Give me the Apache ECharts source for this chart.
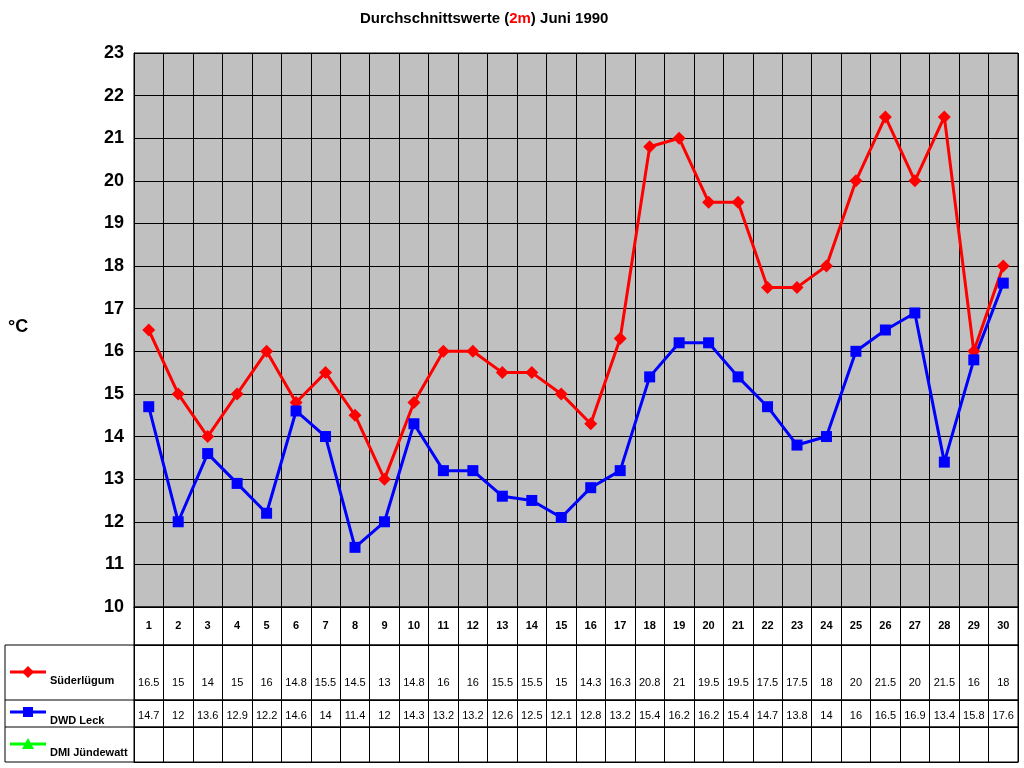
<!DOCTYPE html><html><head><meta charset="utf-8"><script src="https://cdn.jsdelivr.net/npm/echarts@6/dist/echarts.min.js"></script>
<style>body{margin:0;background:#fff}#c{width:1024px;height:768px}</style></head><body><div id="c"></div><script>
const days=['1','2','3','4','5','6','7','8','9','10','11','12','13','14','15','16','17','18','19','20','21','22','23','24','25','26','27','28','29','30'];
const sued=[16.5,15,14,15,16,14.8,15.5,14.5,13,14.8,16,16,15.5,15.5,15,14.3,16.3,20.8,21,19.5,19.5,17.5,17.5,18,20,21.5,20,21.5,16,18];
const dwd=[14.7,12,13.6,12.9,12.2,14.6,14,11.4,12,14.3,13.2,13.2,12.6,12.5,12.1,12.8,13.2,15.4,16.2,16.2,15.4,14.7,13.8,14,16,16.5,16.9,13.4,15.8,17.6];
const dmi=days.map(()=>'');
const L=134,R=6;
const rows=[{top:607,h:38,d:days},{top:645,h:55,d:sued.map(String)},{top:700,h:27,d:dwd.map(String)},{top:727,h:35,d:dmi}];
const grids=[{left:L,right:R,top:53,height:554,backgroundColor:'#c0c0c0',show:true,borderColor:'#000',borderWidth:1}];
const xAxes=[{gridIndex:0,type:'category',data:days,boundaryGap:true,axisLabel:{show:false},axisTick:{show:false},axisLine:{lineStyle:{color:'#000'}},splitLine:{show:true,interval:0,lineStyle:{color:'#000'}}}];
const yAxes=[{gridIndex:0,type:'value',min:10,max:23,interval:1,axisLabel:{color:'#000',fontWeight:'bold',fontSize:18,fontFamily:'Arial, Liberation Sans',margin:10},axisLine:{show:true,lineStyle:{color:'#000'}},axisTick:{show:false},splitLine:{lineStyle:{color:'#000'}}}];
rows.forEach((r,i)=>{
 grids.push({left:L,right:R,top:r.top,height:r.h,show:true,borderColor:'#000',borderWidth:1,backgroundColor:'#fff'});
 xAxes.push({gridIndex:i+1,type:'category',data:r.d,boundaryGap:true,axisTick:{show:false},axisLine:{lineStyle:{color:'#000'}},
  splitLine:{show:true,interval:0,lineStyle:{color:'#000'}},
  axisLabel:{inside:true,interval:0,margin:i==0?14:(i==1?12:6),color:'#000',fontSize:11,fontWeight:i==0?'bold':'normal',fontFamily:'Arial, Liberation Sans'}});
 yAxes.push({gridIndex:i+1,type:'value',show:false,splitLine:{show:false}});
});
const leg=[{y:672,name:'Süderlügum',c:'#ff0000',s:'diamond'},{y:712,name:'DWD Leck',c:'#0000ff',s:'rect'},{y:744,name:'DMI Jündewatt',c:'#00ff00',s:'triangle'}];
const graphic=[{type:'rect',shape:{x:5,y:645,width:129,height:117},style:{fill:'#fff',stroke:'#000',lineWidth:1}},
 {type:'line',shape:{x1:5,y1:700,x2:134,y2:700},style:{stroke:'#000'}},
 {type:'line',shape:{x1:5,y1:727,x2:134,y2:727},style:{stroke:'#000'}},
 {type:'text',left:8,top:318,style:{text:'°C',font:'bold 18px Arial, Liberation Sans',fill:'#000'}},
 {type:'text',left:360,top:11,style:{rich:{a:{font:'bold 15px Arial, Liberation Sans',fill:'#000'},r:{font:'bold 15px Arial, Liberation Sans',fill:'#ff0000',textDecoration:'underline'}},text:'{a|Durchschnittswerte (}{r|2m}{a|) Juni 1990}'}}];
leg.forEach(l=>{
 graphic.push({type:'line',shape:{x1:10,y1:l.y,x2:46,y2:l.y},style:{stroke:l.c,lineWidth:3}});
 const sh=l.s=='diamond'?{type:'polygon',shape:{points:[[28,l.y-6],[34,l.y],[28,l.y+6],[22,l.y]]}}:l.s=='rect'?{type:'rect',shape:{x:23,y:l.y-5,width:10,height:10}}:{type:'polygon',shape:{points:[[28,l.y-6],[34,l.y+5],[22,l.y+5]]}};
 sh.style={fill:l.c};graphic.push(sh);
 graphic.push({type:'text',left:50,top:l.y+3,style:{text:l.name,font:'bold 11px Arial, Liberation Sans',fill:'#000'}});
});
const ch=echarts.init(document.getElementById('c'));
ch.setOption({animation:false,grid:grids,xAxis:xAxes,yAxis:yAxes,graphic:graphic,
 series:[{type:'line',data:sued,color:'#ff0000',lineStyle:{width:3},symbol:'diamond',symbolSize:13,itemStyle:{color:'#ff0000'}},
 {type:'line',data:dwd,color:'#0000ff',lineStyle:{width:3},symbol:'rect',symbolSize:11,itemStyle:{color:'#0000ff'}}]});
</script></body></html>
